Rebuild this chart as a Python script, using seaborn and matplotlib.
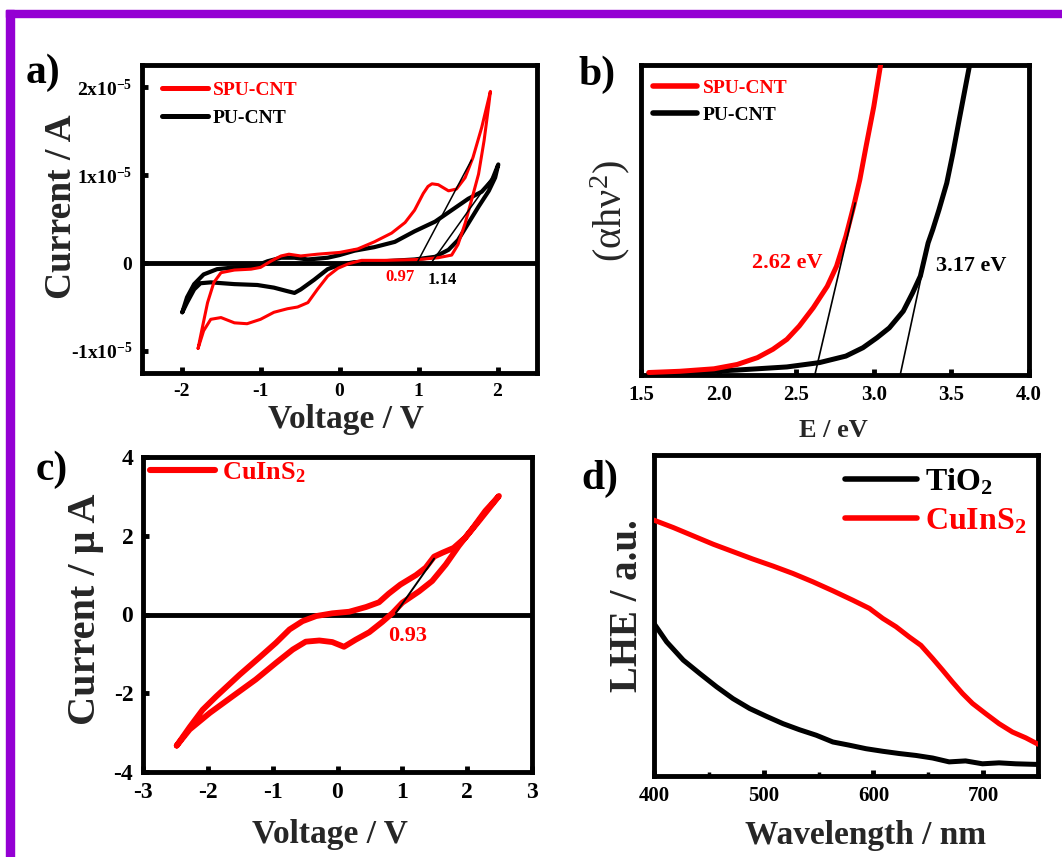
import numpy as np
import pandas as pd
import matplotlib
matplotlib.use("Agg")
import matplotlib.pyplot as plt
from matplotlib.patches import Rectangle
import seaborn as sns

# ---------------- data ----------------
# (a) CV curves, voltage in V, current in units of 1e-5 A
a_spu_v = [-1.79, -1.74, -1.67, -1.59, -1.50, -1.33, -1.12, -1.00, -0.87, -0.74, -0.64, -0.49, -0.28,
           0.00, 0.23, 0.44, 0.66, 0.83, 0.95, 1.06, 1.12, 1.17, 1.25, 1.38, 1.48, 1.59, 1.69, 1.80, 1.91,
           1.89, 1.83, 1.76, 1.67, 1.59, 1.50, 1.42, 1.25, 1.00, 0.57, 0.28, 0.11, -0.02, -0.15, -0.28,
           -0.40, -0.53, -0.66, -0.83, -1.00, -1.17, -1.33, -1.50, -1.63, -1.72, -1.79]
a_spu_i = [-0.97, -0.75, -0.45, -0.22, -0.11, -0.08, -0.07, -0.05, 0.02, 0.08, 0.10, 0.08, 0.10,
           0.12, 0.16, 0.24, 0.34, 0.46, 0.60, 0.79, 0.87, 0.90, 0.89, 0.82, 0.84, 0.97, 1.20, 1.54, 1.95,
           1.80, 1.39, 1.01, 0.71, 0.45, 0.21, 0.09, 0.06, 0.04, 0.03, 0.03, -0.01, -0.06, -0.15, -0.30,
           -0.45, -0.50, -0.52, -0.56, -0.64, -0.69, -0.68, -0.62, -0.64, -0.77, -0.97]
a_pu_v = [-1.99, -1.93, -1.84, -1.72, -1.55, -1.33, -1.08, -0.91, -0.74, -0.57, -0.40, -0.15, 0.00,
          0.19, 0.44, 0.70, 0.95, 1.21, 1.42, 1.63, 1.80, 1.93, 2.01,
          1.97, 1.89, 1.76, 1.63, 1.50, 1.38, 1.21, 0.95, 0.57, 0.19, 0.00, -0.15, -0.32, -0.49,
          -0.57, -0.66, -0.83, -1.04, -1.33, -1.63, -1.76, -1.84, -1.93, -1.99]
a_pu_i = [-0.56, -0.39, -0.24, -0.13, -0.07, -0.05, -0.04, 0.02, 0.06, 0.06, 0.04, 0.06, 0.09,
          0.14, 0.18, 0.24, 0.36, 0.47, 0.60, 0.73, 0.81, 0.94, 1.12,
          0.97, 0.82, 0.64, 0.45, 0.26, 0.15, 0.07, 0.04, 0.02, 0.01, -0.02, -0.07, -0.19, -0.30,
          -0.34, -0.32, -0.28, -0.25, -0.24, -0.22, -0.23, -0.30, -0.45, -0.56]
a_tan1_v = [0.98, 1.67]
a_tan1_i = [0.00, 1.17]
a_tan2_v = [1.16, 1.97]
a_tan2_i = [0.00, 1.02]
a_yticks = [-1e-5, 0, 1e-5, 2e-5]
a_yticklabels = ["-1x10$^{-5}$", "0", "1x10$^{-5}$", "2x10$^{-5}$"]
a_xticks = [-2, -1, 0, 1, 2]

# (b) Tauc plots, E in eV, (alpha h nu)^2 in arbitrary units
b_spu_e = [1.55, 1.75, 1.97, 2.12, 2.25, 2.35, 2.44, 2.52, 2.61, 2.70, 2.76, 2.82, 2.87, 2.91, 2.95, 3.00, 3.05]
b_spu_y = [0.008, 0.012, 0.020, 0.034, 0.056, 0.083, 0.115, 0.158, 0.217, 0.286, 0.351, 0.447, 0.544,
           0.630, 0.737, 0.866, 1.02]
b_pu_e = [1.55, 1.80, 2.12, 2.44, 2.65, 2.82, 2.93, 3.02, 3.10, 3.19, 3.25, 3.30, 3.33, 3.35, 3.38, 3.42,
          3.47, 3.51, 3.55, 3.625]
b_pu_y = [0.004, 0.008, 0.016, 0.026, 0.040, 0.061, 0.088, 0.120, 0.152, 0.206, 0.265, 0.319, 0.383,
          0.426, 0.469, 0.533, 0.619, 0.716, 0.823, 1.02]
b_tan1_e = [2.62, 2.88]
b_tan1_y = [0.0, 0.555]
b_tan2_e = [3.17, 3.35]
b_tan2_y = [0.0, 0.42]
b_xticks = [1.5, 2.0, 2.5, 3.0, 3.5, 4.0]

# (c) CV of CuInS2, current in uA
c_v = [-2.48, -2.28, -2.08, -1.87, -1.51, -1.21, -0.95, -0.74, -0.54, -0.33, -0.08, 0.18, 0.44, 0.64,
       0.79, 0.97, 1.21, 1.36, 1.49, 1.62, 1.79, 1.97, 2.18, 2.49,
       2.28, 2.08, 1.87, 1.67, 1.46, 1.26, 1.00, 0.85, 0.69, 0.49, 0.28, 0.10, -0.08, -0.28, -0.49,
       -0.69, -0.95, -1.26, -1.62, -1.97, -2.28, -2.48]
c_i = [-3.33, -2.86, -2.42, -2.08, -1.53, -1.10, -0.72, -0.38, -0.17, -0.04, 0.03, 0.07, 0.19, 0.31,
       0.53, 0.76, 1.00, 1.19, 1.47, 1.57, 1.69, 1.95, 2.37, 3.01,
       2.63, 2.18, 1.74, 1.27, 0.85, 0.59, 0.30, 0.04, -0.19, -0.45, -0.64, -0.82, -0.70, -0.66, -0.69,
       -0.89, -1.23, -1.65, -2.08, -2.50, -2.92, -3.33]
c_tan_v = [0.90, 1.49]
c_tan_i = [0.04, 1.42]
c_xticks = [-3, -2, -1, 0, 1, 2, 3]
c_yticks = [-4, -2, 0, 2, 4]

# (d) LHE spectra
d_cis_wl = [400, 417.6, 435.8, 454, 472, 490, 508.5, 526.6, 544.8, 563, 581, 596.4, 608.5, 620.6,
            632.7, 643.3, 654, 663, 672, 681.2, 690.3, 702.4, 714.5, 726.7, 738.8, 750]
d_cis_y = [0.797, 0.774, 0.748, 0.722, 0.699, 0.676, 0.654, 0.631, 0.605, 0.577, 0.548, 0.522, 0.491,
           0.465, 0.433, 0.407, 0.366, 0.330, 0.293, 0.257, 0.226, 0.194, 0.163, 0.137, 0.119, 0.099]
d_tio_wl = [400, 411.5, 426.7, 441.8, 457, 472, 487.3, 502.4, 517.6, 532.7, 547.9, 563, 578, 593.3,
            608.5, 623.6, 638.8, 654, 669, 684, 699.4, 714.5, 729.7, 750]
d_tio_y = [0.475, 0.418, 0.361, 0.319, 0.278, 0.241, 0.210, 0.186, 0.163, 0.144, 0.127, 0.106, 0.096,
           0.085, 0.077, 0.070, 0.064, 0.056, 0.044, 0.047, 0.038, 0.041, 0.038, 0.036]
d_xticks = [400, 500, 600, 700]
d_xminor = [450, 550, 650]

# ---------------- style ----------------
sns.set_theme(style="ticks")
plt.rcParams.update({
    "font.family": ["Liberation Serif", "DejaVu Serif"],
    "font.weight": "bold",
    "axes.labelweight": "bold",
    "axes.unicode_minus": False,
    "mathtext.fontset": "custom",
    "mathtext.rm": "Liberation Serif:weight=normal",
    "mathtext.it": "Liberation Serif:italic:weight=normal",
    "mathtext.bf": "Liberation Serif:weight=bold",
    "mathtext.default": "bf",
    "axes.linewidth": 3.5,
    "axes.edgecolor": "black",
    "text.color": "black",
    "xtick.color": "black",
    "ytick.color": "black",
})

RED = "#FF0000"
W, H = 1062, 857
fig = plt.figure(figsize=(W / 100, H / 100), dpi=100)
fig.patch.set_facecolor("white")


def px_axes(l, t, r, b):
    return fig.add_axes([l / W, 1 - b / H, (r - l) / W, (b - t) / H])


def style_ax(ax, tick_fs):
    for s in ax.spines.values():
        s.set_linewidth(3.5)
        s.set_visible(True)
    ax.tick_params(axis="both", which="major", direction="in", length=4, width=3.5,
                   labelsize=tick_fs, pad=7, top=False, right=False)
    for lab in ax.get_xticklabels() + ax.get_yticklabels():
        lab.set_fontweight("bold")


# ---- panel a ----
axa = px_axes(142, 65, 537, 373)
axa.axhline(0, color="black", lw=3.5, zorder=1)
sns.lineplot(x=np.array(a_spu_v), y=np.array(a_spu_i) * 1e-5, sort=False, estimator=None, ax=axa,
             color=RED, lw=2.2, label="SPU-CNT", zorder=3)
sns.lineplot(x=np.array(a_pu_v), y=np.array(a_pu_i) * 1e-5, sort=False, estimator=None, ax=axa,
             color="black", lw=3.0, label="PU-CNT", zorder=2)
sns.lineplot(x=a_tan1_v, y=np.array(a_tan1_i) * 1e-5, sort=False, estimator=None, ax=axa,
             color="black", lw=1.1, zorder=4)
sns.lineplot(x=a_tan2_v, y=np.array(a_tan2_i) * 1e-5, sort=False, estimator=None, ax=axa,
             color="black", lw=1.1, zorder=4)
axa.set_xlim(-2.5, 2.5)
axa.set_ylim(-1.25e-5, 2.25e-5)
axa.set_xticks(a_xticks)
axa.set_xticklabels([str(t) for t in a_xticks])
axa.set_yticks(a_yticks)
axa.set_yticklabels(a_yticklabels)
style_ax(axa, 14)
axa.text(0.76, -0.16e-5, "0.97", color=RED, fontsize=12, ha="center", va="center")
axa.text(1.30, -0.19e-5, "1.14", color="black", fontsize=12, ha="center", va="center")
axa.set_xlabel("Voltage / V", fontsize=24)
axa.set_ylabel("Current / A", fontsize=27)
axa.xaxis.set_label_coords(0.516, -0.10)
axa.yaxis.set_label_coords(-0.16, 0.54)
leg = axa.legend(loc="upper left", bbox_to_anchor=(0.05, 0.948), frameon=False, fontsize=14,
                 handlelength=2.37, handletextpad=0.26, labelspacing=0.56, borderpad=0,
                 borderaxespad=0, labelcolor="linecolor")
for h in leg.legend_handles:
    h.set_linewidth(3.6)

# ---- panel b ----
axb = px_axes(641, 65, 1029, 375)
sns.lineplot(x=b_spu_e, y=b_spu_y, sort=False, estimator=None, ax=axb, color=RED, lw=3.6,
             label="SPU-CNT", zorder=3)
sns.lineplot(x=b_pu_e, y=b_pu_y, sort=False, estimator=None, ax=axb, color="black", lw=3.6,
             label="PU-CNT", zorder=2)
sns.lineplot(x=b_tan1_e, y=b_tan1_y, sort=False, estimator=None, ax=axb, color="black", lw=1.2, zorder=4)
sns.lineplot(x=b_tan2_e, y=b_tan2_y, sort=False, estimator=None, ax=axb, color="black", lw=1.2, zorder=4)
axb.set_xlim(1.5, 4.0)
axb.set_ylim(0, 1)
axb.set_xticks(b_xticks)
axb.set_xticklabels([f"{t:.1f}" for t in b_xticks])
axb.set_yticks([])
style_ax(axb, 15)
axb.text(2.44, 0.36, "2.62 eV", color=RED, fontsize=16, ha="center", va="center")
axb.text(3.63, 0.353, "3.17 eV", color="black", fontsize=16, ha="center", va="center")
axb.set_xlabel("E / eV", fontsize=19)
axb.set_ylabel(r"$\mathrm{(\alpha h\nu^{2})}$", fontsize=29, fontweight="normal")
axb.xaxis.set_label_coords(0.497, -0.142)
axb.yaxis.set_label_coords(-0.024, 0.53)
leg = axb.legend(loc="upper left", bbox_to_anchor=(0.031, 0.955), frameon=False, fontsize=14,
                 handlelength=2.27, handletextpad=0.3, labelspacing=0.5, borderpad=0,
                 borderaxespad=0, labelcolor="linecolor")
for h in leg.legend_handles:
    h.set_linewidth(4.0)

# ---- panel c ----
axc = px_axes(143, 457, 532, 772)
axc.axhline(0, color="black", lw=3.5, zorder=1)
sns.lineplot(x=c_v, y=c_i, sort=False, estimator=None, ax=axc, color=RED, lw=4.2,
             label="CuInS$_{2}$", zorder=3)
sns.lineplot(x=c_tan_v, y=c_tan_i, sort=False, estimator=None, ax=axc, color="black", lw=1.4, zorder=4)
axc.set_xlim(-3, 3)
axc.set_ylim(-4, 4)
axc.set_xticks(c_xticks)
axc.set_xticklabels([str(t) for t in c_xticks])
axc.set_yticks(c_yticks)
axc.set_yticklabels([str(t) for t in c_yticks])
style_ax(axc, 17)
axc.text(1.08, -0.55, "0.93", color=RED, fontsize=16, ha="center", va="center")
axc.set_xlabel("Voltage / V", fontsize=24)
axc.set_ylabel("Current / \u03bc A", fontsize=29)
axc.xaxis.set_label_coords(0.48, -0.15)
axc.yaxis.set_label_coords(-0.10, 0.517)
leg = axc.legend(loc="upper left", bbox_to_anchor=(0.018, 0.99), frameon=False, fontsize=19,
                 handlelength=2.46, handletextpad=0.27, borderpad=0, borderaxespad=0,
                 labelcolor="linecolor")
for h in leg.legend_handles:
    h.set_linewidth(4.4)

# ---- panel d ----
axd = px_axes(654, 455, 1038, 776)
sns.lineplot(x=d_tio_wl, y=d_tio_y, sort=False, estimator=None, ax=axd, color="black", lw=3.6,
             label="TiO$_{2}$", zorder=2)
sns.lineplot(x=d_cis_wl, y=d_cis_y, sort=False, estimator=None, ax=axd, color=RED, lw=3.6,
             label="CuInS$_{2}$", zorder=3)
axd.set_xlim(400, 750)
axd.set_ylim(0, 1)
axd.set_xticks(d_xticks)
axd.set_xticklabels([str(t) for t in d_xticks])
axd.set_xticks(d_xminor, minor=True)
axd.set_yticks([])
style_ax(axd, 15)
axd.tick_params(axis="x", which="minor", direction="in", length=3, width=2.5, top=False)
axd.set_xlabel("Wavelength / nm", fontsize=24)
axd.set_ylabel("LHE / a.u.", fontsize=28)
axd.xaxis.set_label_coords(0.552, -0.137)
axd.yaxis.set_label_coords(-0.021, 0.53)
leg = axd.legend(loc="upper left", bbox_to_anchor=(0.497, 0.963), frameon=False, fontsize=23,
                 handlelength=2.25, handletextpad=0.25, labelspacing=0.3, borderpad=0,
                 borderaxespad=0, labelcolor="linecolor")
for h in leg.legend_handles:
    h.set_linewidth(4.0)

# ---- panel letters ----
for txt, x, y in [("a)", 26, 83), ("b)", 578, 85), ("c)", 36, 480), ("d)", 581, 489)]:
    fig.text(x / W, 1 - y / H, txt, fontsize=30, fontweight="bold", ha="left", va="baseline")

# ---- purple frame ----
PURPLE = "#9400D3"
fig.patches.append(Rectangle((6 / W, 1 - 17 / H), 1.0, 7 / H, transform=fig.transFigure,
                             color=PURPLE, zorder=0))
fig.patches.append(Rectangle((6 / W, 0), 8 / W, 1 - 10 / H, transform=fig.transFigure,
                             color=PURPLE, zorder=0))

fig.savefig("out.png", dpi=100)
